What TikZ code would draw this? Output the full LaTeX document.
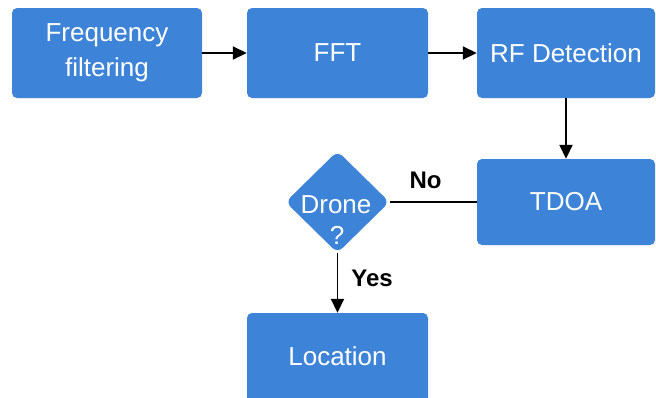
\documentclass[tikz,border=0pt]{standalone}
\usepackage{fontspec}
\setmainfont{Liberation Sans}
\usetikzlibrary{arrows.meta,shapes.geometric}
\definecolor{boxblue}{HTML}{3D84D9}
\tikzset{
  stepbox/.style={fill=boxblue, draw=none, rounded corners=5pt, text=white,
    font=\fontsize{26}{32}\selectfont, align=center, inner sep=0pt},
  flow/.style={draw=black, line width=1.8pt, -{Triangle[length=14pt,width=13pt]}},
  plain/.style={draw=black, line width=1.8pt},
  answer/.style={font=\bfseries\fontsize{24}{28}\selectfont, text=black, inner sep=0pt}
}
\begin{document}
\begin{tikzpicture}[x=1pt,y=-1pt]
  \useasboundingbox (0,0) rectangle (656,397);
  \fill[white] (0,0) rectangle (656,397);

  % processing blocks
  \node[stepbox, minimum width=190pt, minimum height=90pt] (filt) at (107,53) {Frequency\\[3pt]filtering};
  \node[stepbox, minimum width=181pt, minimum height=90pt] (fft) at (337.5,53) {FFT};
  \node[stepbox, minimum width=178pt, minimum height=90pt] (rf) at (566,53) {RF Detection};
  \node[stepbox, minimum width=178pt, minimum height=86pt] (tdoa) at (566,202) {TDOA};
  \node[stepbox, minimum width=181pt, minimum height=90pt] (loc) at (337.5,358) {\raisebox{3pt}{Location}};

  % decision
  \node[diamond, fill=boxblue, rounded corners=7pt, inner sep=0pt, aspect=1,
        minimum width=104pt, minimum height=102pt] (drone) at (337.5,202) {};
  \node[text=white, font=\fontsize{26}{30}\selectfont, inner sep=0pt] (dronetxt) at (336,205) {Drone};
  \node[text=white, font=\fontsize{26}{30}\selectfont, inner sep=0pt] (qmark) at (337,235) {?};

  % connectors
  \draw[flow] (filt.east) -- (fft.west);
  \draw[flow] (fft.east) -- (rf.west);
  \draw[flow] (rf.south) -- (tdoa.north);
  \draw[plain] (tdoa.west) -- (drone.east);
  \draw[flow] (drone.south) -- (loc.north);

  % branch labels
  \node[answer] (nolab) at (425.5,180) {No};
  \node[answer] (yeslab) at (372,278) {Yes};
\end{tikzpicture}
\end{document}
